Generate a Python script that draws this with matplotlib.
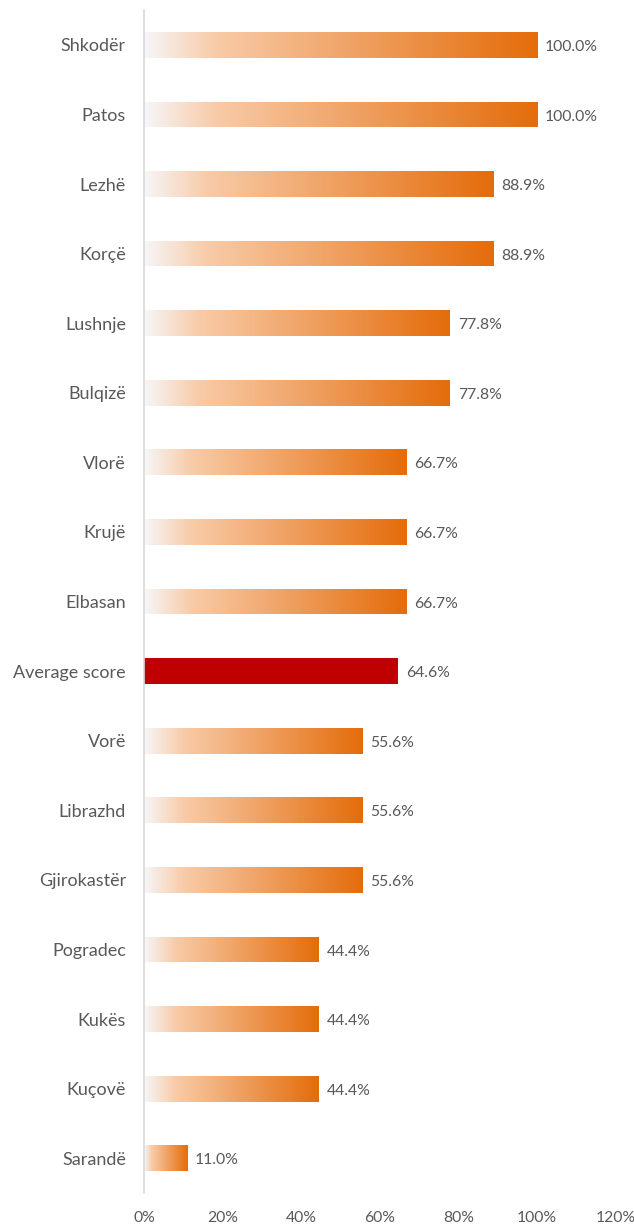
import matplotlib
matplotlib.use('Agg')
import matplotlib.pyplot as plt
from matplotlib.colors import LinearSegmentedColormap
from matplotlib.ticker import FuncFormatter
import numpy as np

plt.rcParams['font.family'] = ['Lato', 'DejaVu Sans']

categories = ['Shkodër', 'Patos', 'Lezhë', 'Korçë', 'Lushnje', 'Bulqizë', 'Vlorë',
              'Krujë', 'Elbasan', 'Average score', 'Vorë', 'Librazhd', 'Gjirokastër',
              'Pogradec', 'Kukës', 'Kuçovë', 'Sarandë']
values = [100.0, 100.0, 88.9, 88.9, 77.8, 77.8, 66.7, 66.7, 66.7, 64.6,
          55.6, 55.6, 55.6, 44.4, 44.4, 44.4, 11.0]
highlight = 'Average score'

TEXT = '#595959'
AVG_COL = '#C00000'
grad = LinearSegmentedColormap.from_list(
    'og', [(0.0, '#F6F6F8'), (0.18, '#F8CBA8'), (1.0, '#E46C0A')])

fig = plt.figure(figsize=(6.34, 12.26), dpi=100, facecolor='white')
ax = fig.add_axes([0.2271, 0.0269, 0.744, 0.9649])

y = np.arange(len(categories))
bar_h = 0.37
gimg = np.linspace(0, 1, 256).reshape(1, -1)

for yi, cat, v in zip(y, categories, values):
    val = v / 100
    if cat == highlight:
        ax.barh(yi, val, height=bar_h, color=AVG_COL, zorder=2)
    else:
        bar = ax.barh(yi, val, height=bar_h, color='none', zorder=2)[0]
        im = ax.imshow(gimg, cmap=grad, aspect='auto', zorder=2,
                       extent=(0, val, yi + bar_h / 2, yi - bar_h / 2),
                       interpolation='bicubic')
        im.set_clip_path(bar)
    ax.text(val + 0.02, yi + 0.03, f'{v:.1f}%', ha='left', va='center',
            fontsize=11.3, color=TEXT)

ax.set_xlim(0, 1.2)
ax.set_ylim(len(categories) - 0.5, -0.5)
ax.set_yticks(y)
ax.set_yticklabels(categories, fontsize=13, color=TEXT)
ax.set_xticks(np.arange(0, 1.21, 0.2))
ax.xaxis.set_major_formatter(FuncFormatter(lambda x, _: f'{x * 100:.0f}%'))
ax.tick_params(axis='x', labelsize=11.3, colors=TEXT, length=0, pad=13)
ax.tick_params(axis='y', length=0, pad=13)

for s in ['top', 'right', 'bottom']:
    ax.spines[s].set_visible(False)
ax.spines['left'].set_color('#D9D9D9')
ax.spines['left'].set_linewidth(1.2)

fig.savefig('out.png', dpi=100, facecolor='white')
